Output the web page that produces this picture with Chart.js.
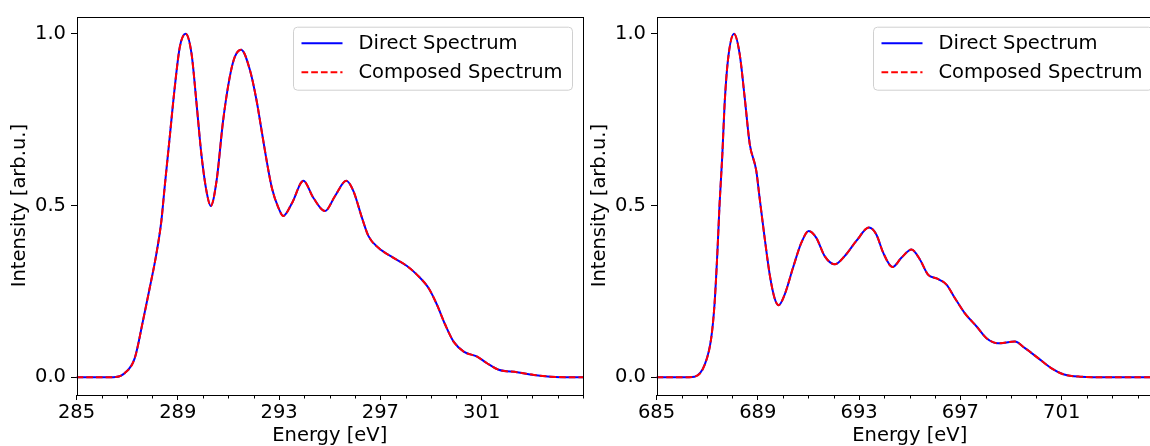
<html lang="en">
<head>
    <title>Direct vs Composed Spectrum</title>
    <script src="https://cdn.jsdelivr.net/npm/chart.js@4.4.0/dist/chart.umd.min.js"></script>
    <style>
        body { margin: 0; background: #fff; overflow: hidden; width: 1150px; height: 446px; position: relative; }
        .panel { position: absolute; top: 0; width: 590px; height: 446px; }
        #left-panel { left: 0; }
        #right-panel { left: 580px; }
    </style>
</head>
<body>
<div class="panel" id="left-panel"><canvas id="left-chart" width="590" height="446"></canvas></div>
<div class="panel" id="right-panel"><canvas id="right-chart" width="590" height="446"></canvas></div>
<script>
    // C K-edge (left panel)
    const leftEnergy = [285, 286.0, 286.55, 286.9, 287.3, 287.62, 287.89, 288.15, 288.35, 288.48, 288.68, 288.88,
        289.08, 289.31, 289.54, 289.74, 289.93, 290.13, 290.30, 290.53, 290.79, 291.05, 291.25, 291.50, 291.85,
        292.11, 292.31, 292.51, 292.71, 292.97, 293.16, 293.50, 293.96, 294.35, 294.81, 295.21, 295.65, 295.93,
        296.27, 296.53, 296.92, 297.52, 298.05, 298.44, 298.90, 299.23, 299.56, 299.89, 300.29, 300.82, 301.21,
        301.67, 302.40, 303.06, 303.72, 304.5, 305];
    const leftDirect = [0, 0, 0.001, 0.012, 0.056, 0.163, 0.26, 0.358, 0.455, 0.553, 0.699, 0.845,
        0.962, 1.0, 0.943, 0.797, 0.65, 0.543, 0.499, 0.572, 0.748, 0.874, 0.933, 0.954, 0.894,
        0.806, 0.718, 0.63, 0.553, 0.494, 0.47, 0.506, 0.572, 0.523, 0.484, 0.528, 0.572, 0.543,
        0.465, 0.411, 0.377, 0.348, 0.324, 0.299, 0.26, 0.212, 0.153, 0.104, 0.075, 0.06, 0.041,
        0.022, 0.015, 0.007, 0.002, 0, 0];
    const leftComposed = leftDirect.slice();

    // F K-edge (right panel)
    const rightEnergy = [685, 686.0, 686.5, 686.9, 687.16, 687.29, 687.40, 687.49, 687.60, 687.69, 687.82,
        688.06, 688.28, 688.48, 688.68, 688.94, 689.07, 689.27, 689.47, 689.66, 689.82, 690.06, 690.39, 690.72,
        691.01, 691.31, 691.64, 692.04, 692.43, 692.89, 693.39, 693.68, 693.95, 694.32, 694.67, 695.07, 695.40,
        695.72, 696.06, 696.45, 696.78, 697.17, 697.64, 698.03, 698.49, 699.15, 699.55, 700.07, 700.60, 701.06,
        701.72, 703, 705];
    const rightDirect = [0, 0, 0.002, 0.036, 0.114, 0.212, 0.358, 0.504, 0.65, 0.797, 0.923,
        1.0, 0.943, 0.816, 0.68, 0.601, 0.523, 0.406, 0.299, 0.231, 0.21, 0.241, 0.319, 0.392,
        0.426, 0.406, 0.353, 0.329, 0.353, 0.397, 0.436, 0.416, 0.363, 0.321, 0.348, 0.372, 0.343,
        0.299, 0.288, 0.27, 0.231, 0.187, 0.148, 0.114, 0.099, 0.104, 0.085, 0.056, 0.026, 0.009,
        0.002, 0, 0];
    const rightComposed = rightDirect.slice();

    const leftTicks = [285, 289, 293, 297, 301];
    const rightTicks = [685, 689, 693, 697, 701];
    const yTicks = [0, 0.5, 1.0];
    const seriesNames = ['Direct Spectrum', 'Composed Spectrum'];

    const FONT = 'DejaVu Sans';
    const FSIZE = 19.5;

    function toPoints(xs, ys) {
        return xs.map((x, i) => ({x: x, y: ys[i]}));
    }

    // box around the axes, minor ticks, and the legend in the upper right
    const framePlugin = {
        id: 'frame',
        afterDraw(chart) {
            const ctx = chart.ctx;
            const a = chart.chartArea;
            const xs = chart.scales.x;
            ctx.save();
            ctx.strokeStyle = '#000';
            ctx.lineWidth = 1;
            ctx.strokeRect(Math.round(a.left) + 0.5, Math.round(a.top) + 0.5,
                Math.round(a.right - a.left), Math.round(a.bottom - a.top));

            // minor ticks every 1 eV
            const majors = chart.options.majorTicks;
            for (let v = Math.ceil(xs.min); v <= xs.max; v++) {
                if (majors.indexOf(v) >= 0) continue;
                const px = Math.round(xs.getPixelForValue(v)) + 0.5;
                ctx.beginPath();
                ctx.moveTo(px, Math.round(a.bottom));
                ctx.lineTo(px, Math.round(a.bottom) + 3.5);
                ctx.stroke();
            }

            // legend
            const bx = a.right - 289.5, by = a.top + 10.5, bw = 279, bh = 63;
            ctx.fillStyle = 'rgba(255,255,255,0.8)';
            ctx.strokeStyle = '#d0d0d0';
            ctx.beginPath();
            ctx.roundRect(bx, by, bw, bh, 4);
            ctx.fill();
            ctx.stroke();
            ctx.font = FSIZE + 'px "' + FONT + '"';
            ctx.textBaseline = 'middle';
            ctx.fillStyle = '#000';
            chart.data.datasets.forEach((ds, i) => {
                const cy = by + 16 + i * 29;
                ctx.strokeStyle = ds.borderColor;
                ctx.lineWidth = ds.borderWidth;
                ctx.setLineDash(ds.borderDash || []);
                ctx.beginPath();
                ctx.moveTo(bx + 8, cy);
                ctx.lineTo(bx + 49, cy);
                ctx.stroke();
                ctx.setLineDash([]);
                ctx.fillText(ds.label, bx + 65, cy + 1);
            });
            ctx.restore();
        }
    };

    function makeChart(canvasId, xs, direct, composed, xMin, majors) {
        return new Chart(document.getElementById(canvasId), {
            type: 'line',
            data: {
                datasets: [{
                    label: seriesNames[0],
                    data: toPoints(xs, direct),
                    borderColor: '#0000ff',
                    borderWidth: 2,
                    pointRadius: 0,
                    cubicInterpolationMode: 'monotone',
                    order: 2
                }, {
                    label: seriesNames[1],
                    data: toPoints(xs, composed),
                    borderColor: '#ff0000',
                    borderWidth: 2,
                    borderDash: [6.7, 3],
                    pointRadius: 0,
                    cubicInterpolationMode: 'monotone',
                    order: 1
                }]
            },
            options: {
                responsive: false,
                animation: false,
                majorTicks: majors,
                layout: {padding: {left: 10, top: 16, right: 7, bottom: 0}},
                plugins: {legend: {display: false}, tooltip: {enabled: false}},
                scales: {
                    x: {
                        type: 'linear',
                        min: xMin,
                        max: xMin + 20,
                        afterBuildTicks: scale => { scale.ticks = majors.map(v => ({value: v})); },
                        ticks: {
                            color: '#000',
                            font: {family: FONT, size: FSIZE, lineHeight: 1.0},
                            padding: 3,
                            maxRotation: 0,
                            autoSkip: false,
                            callback: v => String(v)
                        },
                        grid: {drawOnChartArea: false, color: '#000', tickLength: 5.5},
                        border: {display: false},
                        title: {
                            display: true,
                            text: 'Energy [eV]',
                            color: '#000',
                            font: {family: FONT, size: FSIZE, lineHeight: 1.0},
                            padding: {top: 1, bottom: 0}
                        }
                    },
                    y: {
                        min: -0.05,
                        max: 1.05,
                        afterBuildTicks: scale => { scale.ticks = yTicks.map(v => ({value: v})); },
                        ticks: {
                            color: '#000',
                            font: {family: FONT, size: FSIZE},
                            padding: 5,
                            callback: v => v.toFixed(1)
                        },
                        grid: {drawOnChartArea: false, color: '#000', tickLength: 5.5},
                        border: {display: false},
                        title: {
                            display: true,
                            text: 'Intensity [arb.u.]',
                            color: '#000',
                            font: {family: FONT, size: FSIZE, lineHeight: 1.0},
                            padding: {top: 0, bottom: 0.5}
                        }
                    }
                }
            },
            plugins: [framePlugin]
        });
    }

    makeChart('left-chart', leftEnergy, leftDirect, leftComposed, 285, leftTicks);
    makeChart('right-chart', rightEnergy, rightDirect, rightComposed, 685, rightTicks);
</script>
</body>
</html>
